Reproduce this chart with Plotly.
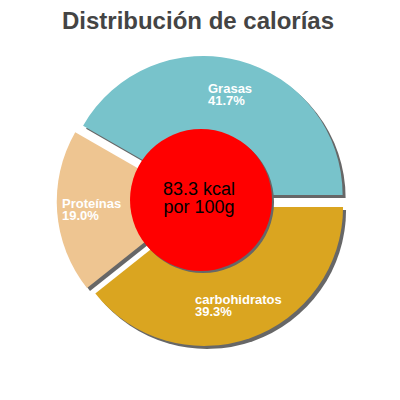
import math
import plotly.graph_objects as go

# data
labels = ["Grasas", "Proteínas", "carbohidratos"]
percents = [41.7, 19.0, 39.3]
colors = ["#78C3CB", "#EEC591", "#DAA520"]
energy_text = ["83.3 kcal", "por 100g"]
title = "Distribución de calorías"

W = H = 400
OFF = 8  # the page body adds 8px around the plot div
PULL = 0.045
R = 139  # pie radius in px
HOLE_R = 71
SHADOW = 3  # shadow offset, px
FONT = "Liberation Sans, Arial, sans-serif"


def px(x, y):
    """page pixel -> paper coordinates"""
    return (x - OFF) / W, 1 - (y - OFF) / H


CX, CY = px(202, 201)  # pie centre
HX, HY = px(201, 200)  # red disc centre

# plotly anchors the first slice at `rotation` even when counterclockwise,
# so shift it to make Grasas start at 3 o'clock and open upwards
ROT = 90 - percents[0] / sum(percents) * 360


def box(cx, cy, half):
    return dict(x=[cx - half, cx + half], y=[cy - half, cy + half])


def make_pie(names, values, cols, dom, pull, rot=ROT):
    return go.Pie(
        labels=names,
        values=values,
        marker=dict(colors=cols, line=dict(width=0)),
        pull=pull,
        sort=False,
        direction="counterclockwise",
        rotation=rot,
        textinfo="none",
        hoverinfo="skip",
        showlegend=False,
        domain=dom,
    )


def lines(parts, size, bold=False):
    # font size set per span so the line spacing can stay tight
    w = "font-weight:bold;" if bold else ""
    return "<br>".join(
        f"<span style='font-size:{size}px;{w}'>{p}</span>" for p in parts
    )


half = R * (1 + PULL) / W
sx, sy = SHADOW / W, SHADOW / H

fig = go.Figure()
# shadow of the pie, then the pie
fig.add_trace(make_pie([l + " s" for l in labels], percents, ["#676767"] * 3,
                       box(CX + sx, CY - sy, half), PULL))
fig.add_trace(make_pie(labels, percents, colors, box(CX, CY, half), PULL))

# red centre disc with its shadow
fig.add_trace(make_pie(["disc s"], [1], ["#676767"],
                       box(HX + 2 / W, HY - 2 / H, HOLE_R / W), 0, 0))
fig.add_trace(make_pie(["disc"], [1], ["#FF0000"], box(HX, HY, HOLE_R / W), 0, 0))

# slice labels centred on each bisector
start = 0.0
for lab, p in zip(labels, percents):
    mid = math.radians((start + p / 2) / sum(percents) * 360)
    start += p
    r = (0.75 + PULL) * R / W
    fig.add_annotation(
        x=CX + r * math.cos(mid),
        y=CY + r * math.sin(mid),
        xref="paper",
        yref="paper",
        xanchor="center",
        yanchor="middle",
        text=lines([lab, f"{p:.1f}%"], 13, bold=True),
        showarrow=False,
        align="left",
        font=dict(family=FONT, size=9, color="white"),
    )

fig.add_annotation(
    x=HX - 2 / W,
    y=HY + 2 / H,
    xref="paper",
    yref="paper",
    xanchor="center",
    yanchor="middle",
    text=lines(energy_text, 18),
    showarrow=False,
    font=dict(family=FONT, size=13.5, color="black"),
)

tx, ty = px(198, 21)
fig.update_layout(
    width=W,
    height=H,
    margin=dict(l=0, r=0, t=0, b=0),
    paper_bgcolor="white",
    plot_bgcolor="white",
    title=dict(
        text=f"<b>{title}</b>",
        x=tx,
        xanchor="center",
        y=ty,
        yanchor="middle",
        font=dict(family=FONT, size=24, color="#444444"),
    ),
)

fig.write_html("out.html")
